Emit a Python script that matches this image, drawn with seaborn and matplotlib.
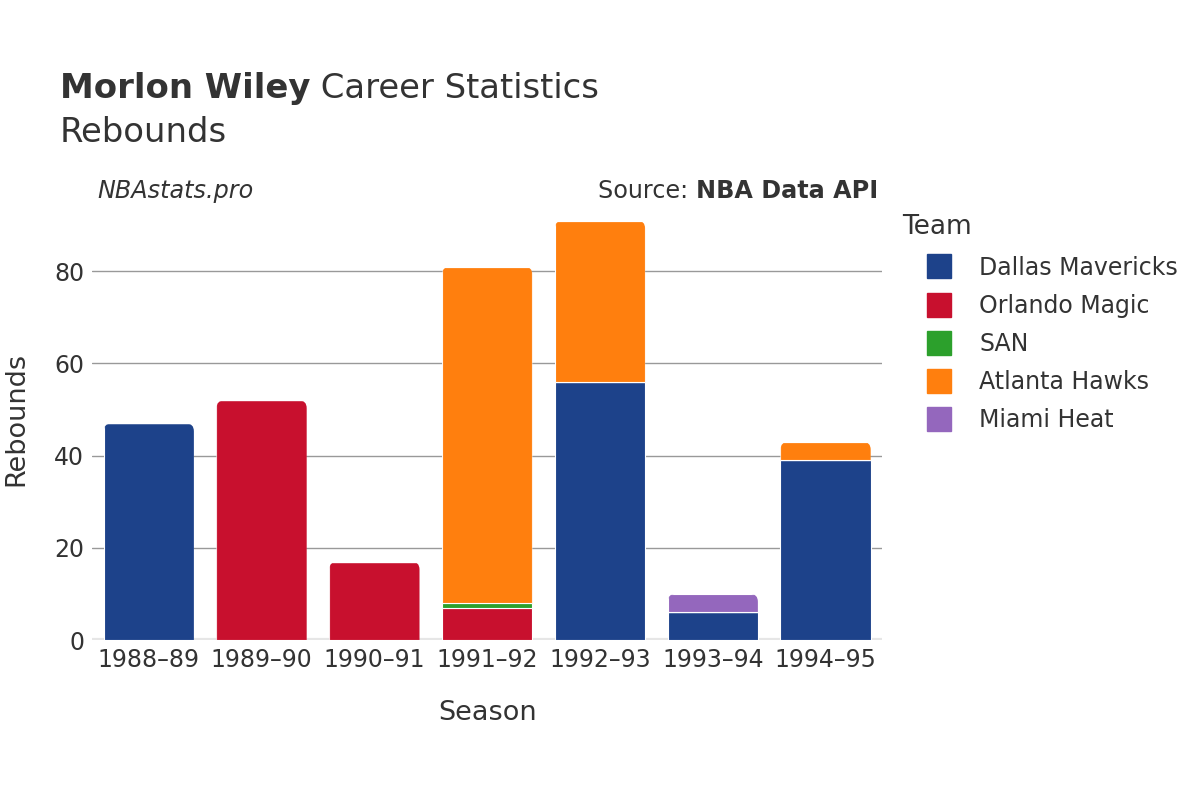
import matplotlib
matplotlib.use("Agg")
import matplotlib.pyplot as plt
from matplotlib.lines import Line2D
from matplotlib.patches import FancyBboxPatch
import seaborn as sns
import numpy as np

# data
seasons = ["1988–89", "1989–90", "1990–91", "1991–92", "1992–93", "1993–94", "1994–95"]
teams = ["Dallas Mavericks", "Orlando Magic", "SAN", "Atlanta Hawks", "Miami Heat"]
dallas = [47, 0, 0, 0, 56, 6, 39]
orlando = [0, 52, 17, 7, 0, 0, 0]
san = [0, 0, 0, 1, 0, 0, 0]
atlanta = [0, 0, 0, 73, 35, 0, 4]
miami = [0, 0, 0, 0, 0, 4, 0]
colors = ["#1D428A", "#C8102E", "#2CA02C", "#FF7F0E", "#9467BD"]

sns.set_theme(style="white")
plt.rcParams["font.family"] = ["DejaVu Sans"]
text_col = "#333333"

fig = plt.figure(figsize=(12, 8), dpi=100)
ax = fig.add_axes([0.077, 0.2, 0.658, 0.553])

bottom = np.zeros(len(seasons))
for vals, col in zip([dallas, orlando, san, atlanta, miami], colors):
    sns.barplot(x=seasons, y=vals, bottom=bottom, color=col, width=0.8,
                errorbar=None, edgecolor="white", linewidth=0.8, ax=ax,
                saturation=1, zorder=3)
    bottom = bottom + np.array(vals)
totals = bottom

ax.set_ylim(0, 96)
ax.set_xlim(-0.5, 6.5)
ax.set_yticks([0, 20, 40, 60, 80])
ax.yaxis.grid(True, color="#999999", linewidth=1, zorder=0)
ax.axhline(0, color="#e6e6e6", linewidth=3, zorder=2)
for s in ax.spines.values():
    s.set_visible(False)
ax.tick_params(axis="both", labelsize=17, colors=text_col, length=0, pad=6)
ax.set_xlabel("Season", fontsize=19.5, color=text_col, labelpad=20)
ax.set_ylabel("Rebounds", fontsize=19.5, color=text_col, labelpad=18)

# round the top corners of the topmost segment in each stack
aspect = (0.658 * 1200 / 7) / (0.553 * 800 / 96)
for p in ax.patches:
    h = p.get_height()
    if h <= 0:
        continue
    x0, y0, w = p.get_x(), p.get_y(), p.get_width()
    i = int(round(x0 + w / 2))
    if abs(y0 + h - totals[i]) < 1e-6:
        clip = FancyBboxPatch((x0, y0 - 5), w, h + 5,
                              boxstyle="round,pad=0,rounding_size=0.07",
                              mutation_aspect=aspect, transform=ax.transData)
        p.set_clip_path(clip)

# title: bold name followed by regular text
t1 = fig.text(0.05, 0.877, "Morlon Wiley", fontsize=24.4, fontweight="bold",
              color=text_col, va="baseline")
fig.canvas.draw()
bb = t1.get_window_extent()
fig.text(bb.x1 / 1200, 0.877, " Career Statistics", fontsize=24.4,
         color=text_col, va="baseline")
fig.text(0.05, 0.823, "Rebounds", fontsize=24.4, color=text_col, va="baseline")

fig.text(0.081, 0.752, "NBAstats.pro", fontsize=17.2, style="italic",
         color=text_col, va="baseline")
s2 = fig.text(0.732, 0.752, "NBA Data API", fontsize=17.2, fontweight="bold",
              color=text_col, va="baseline", ha="right")
fig.canvas.draw()
bb2 = s2.get_window_extent()
fig.text(bb2.x0 / 1200, 0.752, "Source: ", fontsize=17.2, color=text_col,
         va="baseline", ha="right")

fig.text(902 / 1200, 1 - 227 / 800, "Team", fontsize=19, color=text_col, va="center")
handles = [Line2D([0], [0], marker="s", linestyle="", markersize=17,
                  markerfacecolor=c, markeredgecolor=c) for c in colors]
leg = fig.legend(handles, teams, loc="upper left", bbox_to_anchor=(0.745, 0.707),
                 frameon=False, fontsize=17, labelspacing=0.6,
                 handletextpad=0.72)
for t in leg.get_texts():
    t.set_color(text_col)

fig.savefig("out.png", dpi=100)
